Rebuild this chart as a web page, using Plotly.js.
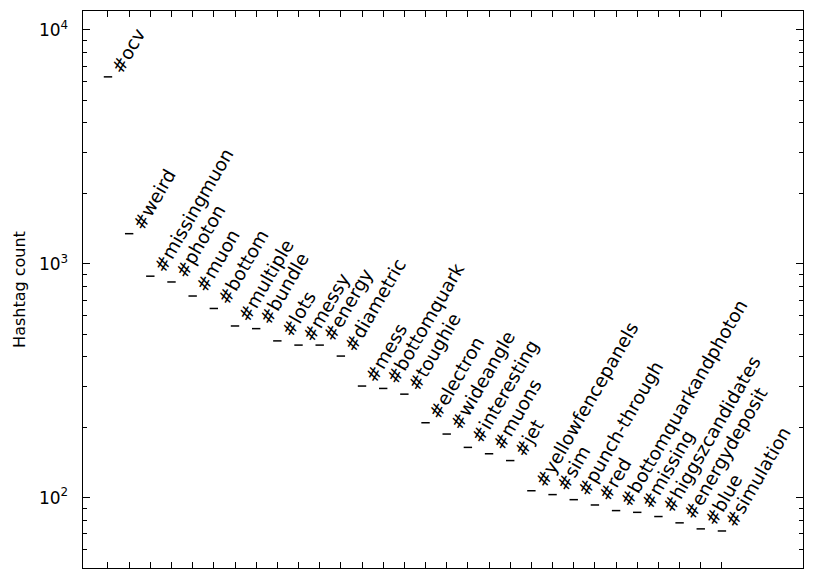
<!DOCTYPE html>
<html>
<head>
<meta charset="utf-8">
<script src="https://cdn.plot.ly/plotly-3.0.1.min.js"></script>
<style>html,body{margin:0;padding:0;background:#fff}#chart{width:815px;height:580px}</style>
</head>
<body>
<div id="chart"></div>
<script>
var hashtags = ["#ocv","#weird","#missingmuon","#photon","#muon","#bottom","#multiple","#bundle","#lots","#messy","#energy","#diametric","#mess","#bottomquark","#toughie","#electron","#wideangle","#interesting","#muons","#jet","#yellowfencepanels","#sim","#punch-through","#red","#bottomquarkandphoton","#missing","#higgszcandidates","#energydeposit","#blue","#simulation"];
var counts = [6300,1345,885,836,728,644,542,528,468,449,449,403,300,293,277,209,187,164,154,144,107,103,98,93,88,86.5,83,78,73.5,72];
var positions = hashtags.map(function(_, i){ return i; });
var yTickVals = [100, 1000, 10000];
var yTickText = ["10<sup>2</sup>", "10<sup>3</sup>", "10<sup>4</sup>"];
var yMinorVals = [60,70,80,90,200,300,400,500,600,700,800,900,2000,3000,4000,5000,6000,7000,8000,9000];

var font = "DejaVu Sans, sans-serif";
var annotations = hashtags.map(function(t, i){
  return {x: positions[i], y: Math.log10(counts[i]), xref: 'x', yref: 'y', text: t,
          showarrow: false, textangle: -60, xanchor: 'left', yanchor: 'bottom',
          xshift: -2, yshift: -1,
          font: {family: font, size: 18.5, color: '#000'}, borderpad: 0};
});

var trace = {x: positions, y: counts, mode: 'markers', type: 'scatter', hoverinfo: 'skip',
  marker: {symbol: 'line-ew', size: 6, color: '#000', line: {color: '#000', width: 1.5}}};

var layout = {
  width: 815, height: 580,
  margin: {l: 83, r: 12, t: 11, b: 12},
  paper_bgcolor: '#fff', plot_bgcolor: '#fff',
  showlegend: false,
  font: {family: font, size: 16, color: '#000'},
  xaxis: {range: [-1.18, 32.83], tickmode: 'array', tickvals: positions, showticklabels: false,
    ticks: 'inside', ticklen: 6, tickwidth: 1, tickcolor: '#000',
    showline: true, linecolor: '#000', linewidth: 1.4, mirror: 'ticks', showgrid: false, zeroline: false},
  yaxis: {type: 'log', range: [1.699, 4.081], tickmode: 'array', tickvals: yTickVals, ticktext: yTickText,
    ticks: 'inside', ticklen: 7, tickwidth: 1, tickcolor: '#000', ticklabelstandoff: 10,
    tickfont: {family: font, size: 17, color: '#000'},
    minor: {tickmode: 'array', tickvals: yMinorVals, ticks: 'inside', ticklen: 4, tickwidth: 1, tickcolor: '#000', showgrid: false},
    showline: true, linecolor: '#000', linewidth: 1.4, mirror: 'ticks', showgrid: false, zeroline: false,
    title: {text: 'Hashtag count', font: {family: font, size: 16, color: '#000'}, standoff: 9}},
  annotations: annotations
};
Plotly.newPlot('chart', [trace], layout, {displayModeBar: false, staticPlot: true});
</script>
</body>
</html>
